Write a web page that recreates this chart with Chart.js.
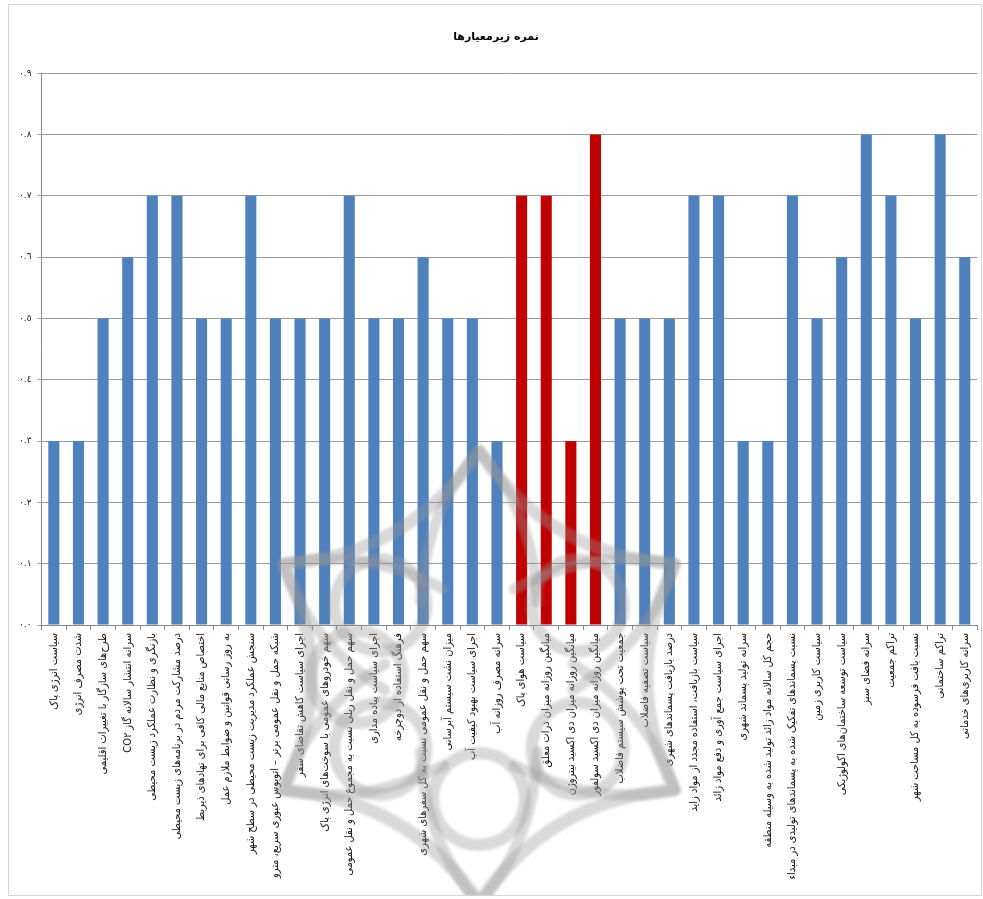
<!DOCTYPE html>
<html>
<head>
<meta charset="utf-8">
<script src="https://cdn.jsdelivr.net/npm/chart.js@4/dist/chart.umd.min.js"></script>
<style>
  html, body { margin: 0; padding: 0; background: #ffffff; }
  #frame { position: absolute; left: 8px; top: 4px; width: 974px; height: 892px; border: 1px solid #d4d4d4; box-sizing: border-box; }
  #frame canvas { display: block; }
</style>
</head>
<body>
<div id="frame"><canvas id="chart" dir="rtl"></canvas></div>
<script>
// Sub-criteria of the urban environment assessment
const categories = [
  'سیاست انرژی پاک',
  'شدت مصرف انرژی',
  'طرح‌های سازگار با تغییرات اقلیمی',
  'سرانه انتشار سالانه گاز CO۲',
  'بازنگری و نظارت عملکرد زیست محیطی',
  'درصد مشارکت مردم در برنامه‌های زیست محیطی',
  'اختصاص منابع مالی کافی برای نهادهای ذیربط',
  'به روز رسانی قوانین و ضوابط ملازم عمل',
  'سنجش عملکرد مدیریت زیست محیطی در سطح شهر',
  'شبکه حمل و نقل عمومی برتر – اتوبوس عبوری سریع، مترو',
  'اجرای سیاست کاهش تقاضای سفر',
  'سهم خودروهای عمومی با سوخت‌های انرژی پاک',
  'سهم حمل و نقل ریلی نسبت به مجموع حمل و نقل عمومی',
  'اجرای سیاست پیاده مداری',
  'فرهنگ استفاده از دوچرخه',
  'سهم حمل و نقل عمومی نسبت به کل سفرهای شهری',
  'میزان نشت سیستم آبرسانی',
  'اجرای سیاست بهبود کیفیت آب',
  'سرانه مصرف روزانه آب',
  'سیاست هوای پاک',
  'میانگین روزانه میزان ذرات معلق',
  'میانگین روزانه میزان دی اکسید نیتروژن',
  'میانگین روزانه میزان دی اکسید سولفور',
  'جمعیت تحت پوشش سیستم فاضلاب',
  'سیاست تصفیه فاضلاب',
  'درصد بازیافت پسماندهای شهری',
  'سیاست بازیافت، استفاده مجدد از مواد زاید',
  'اجرای سیاست جمع آوری و دفع مواد زائد',
  'سرانه تولید پسماند شهری',
  'حجم کل سالانه مواد زائد تولید شده به وسیله منطقه',
  'نسبت پسماندهای تفکیک شده به پسماندهای تولیدی در مبداء',
  'سیاست کاربری زمین',
  'سیاست توسعه ساختمان‌های اکولوژیکی',
  'سرانه فضای سبز',
  'تراکم جمعیت',
  'نسبت بافت فرسوده به کل مساحت شهر',
  'تراکم ساختمانی',
  'سرانه کاربری‌های خدماتی'
];

// Score of each sub-criterion
const scores = [
  0.3, 0.3, 0.5, 0.6, 0.7, 0.7, 0.5, 0.5, 0.7, 0.5,
  0.5, 0.5, 0.7, 0.5, 0.5, 0.6, 0.5, 0.5, 0.3, 0.7,
  0.7, 0.3, 0.8, 0.5, 0.5, 0.5, 0.7, 0.7, 0.3, 0.3,
  0.7, 0.5, 0.6, 0.8, 0.7, 0.5, 0.8, 0.6
];

// Air-quality sub-criteria, shown in red
const airQuality = [
  'سیاست هوای پاک',
  'میانگین روزانه میزان ذرات معلق',
  'میانگین روزانه میزان دی اکسید نیتروژن',
  'میانگین روزانه میزان دی اکسید سولفور'
];

// Value-axis tick labels, from 0 upward
const yTickLabels = ['٠.٠', '٠.١', '٠.٢', '٠.٣', '٠.٤', '٠.٥', '٠.٦', '٠.٧', '٠.٨', '٠.٩'];

const chartTitle = 'نمره زیرمعیارها';

const BLUE = '#4f81bd';
const RED = '#c00000';
const barColors = categories.map(c => airQuality.includes(c) ? RED : BLUE);

const frame = document.getElementById('frame');
const canvas = document.getElementById('chart');
canvas.width = frame.clientWidth;
canvas.height = frame.clientHeight;

// Faint grey rosette emblem laid over the lower middle of the chart
const emblem = {
  id: 'emblem',
  afterDraw(chart) {
    const ctx = chart.ctx;
    const cx = 470, cy = 672, R = 226;
    const deg = Math.PI / 180;
    ctx.save();
    ctx.filter = 'blur(1.5px)';
    ctx.strokeStyle = 'rgba(150,150,150,0.36)';
    ctx.lineWidth = 13;
    ctx.lineJoin = 'round';
    ctx.lineCap = 'round';
    // outer six-pointed web with gently inward-curving sides
    const pts = [];
    for (let k = 0; k < 6; k++) {
      const a = (-90 + k * 60) * deg;
      pts.push([cx + R * Math.cos(a), cy + R * Math.sin(a)]);
    }
    ctx.beginPath();
    for (let k = 0; k < 6; k++) {
      const p = pts[k], q = pts[(k + 1) % 6];
      const mid = (-90 + (k + 0.5) * 60) * deg;
      const ctl = [cx + R * 0.62 * Math.cos(mid), cy + R * 0.62 * Math.sin(mid)];
      if (k === 0) ctx.moveTo(p[0], p[1]);
      ctx.quadraticCurveTo(ctl[0], ctl[1], q[0], q[1]);
    }
    ctx.stroke();
    // pointed arches running inward from each outer point
    ctx.lineWidth = 11;
    for (let k = 0; k < 6; k++) {
      const a = (-90 + k * 60) * deg;
      const p = pts[k];
      const l = [cx + 95 * Math.cos(a - 38 * deg), cy + 95 * Math.sin(a - 38 * deg)];
      const r = [cx + 95 * Math.cos(a + 38 * deg), cy + 95 * Math.sin(a + 38 * deg)];
      const cl = [cx + 175 * Math.cos(a - 18 * deg), cy + 175 * Math.sin(a - 18 * deg)];
      const cr = [cx + 175 * Math.cos(a + 18 * deg), cy + 175 * Math.sin(a + 18 * deg)];
      ctx.beginPath();
      ctx.moveTo(l[0], l[1]);
      ctx.quadraticCurveTo(cl[0], cl[1], p[0], p[1]);
      ctx.quadraticCurveTo(cr[0], cr[1], r[0], r[1]);
      ctx.stroke();
    }
    // inner ring of loops
    ctx.lineWidth = 12;
    [-144, -36, 36, 90, 144, 180].forEach(t => {
      const a = t * deg;
      ctx.beginPath();
      ctx.arc(cx + 122 * Math.cos(a), cy + 122 * Math.sin(a), 46, 0, Math.PI * 2);
      ctx.stroke();
    });
    ctx.restore();
  }
};

new Chart(canvas, {
  type: 'bar',
  data: {
    labels: categories,
    datasets: [{
      data: scores,
      backgroundColor: barColors,
      borderWidth: 0,
      categoryPercentage: 1.0,
      barPercentage: 0.45
    }]
  },
  options: {
    responsive: false,
    animation: false,
    devicePixelRatio: 1,
    layout: { padding: { left: 4, right: 2, top: 10, bottom: 0 } },
    plugins: {
      legend: { display: false },
      tooltip: { enabled: false },
      title: {
        display: true,
        text: chartTitle,
        color: '#000000',
        font: { family: 'DejaVu Sans', size: 11, weight: 'bold' },
        padding: { top: 16, bottom: 29 }
      }
    },
    scales: {
      x: {
        afterFit(scale) { scale.height = 270; },
        grid: {
          display: true,
          drawOnChartArea: false,
          drawTicks: true,
          tickLength: 5,
          color: '#888888'
        },
        border: { display: true, color: '#888888' },
        ticks: {
          autoSkip: false,
          maxRotation: 90,
          minRotation: 90,
          color: '#111111',
          padding: 3,
          font: { family: 'DejaVu Sans Condensed', size: 11 }
        }
      },
      y: {
        min: 0,
        max: 0.9,
        ticks: {
          stepSize: 0.1,
          color: '#111111',
          padding: 6,
          font: { family: 'DejaVu Sans', size: 9 },
          callback: (v, i) => yTickLabels[i]
        },
        grid: {
          color: '#999999',
          lineWidth: 1,
          tickLength: 4
        },
        border: { display: true, color: '#888888' }
      }
    }
  },
  plugins: [emblem]
});
</script>
</body>
</html>
